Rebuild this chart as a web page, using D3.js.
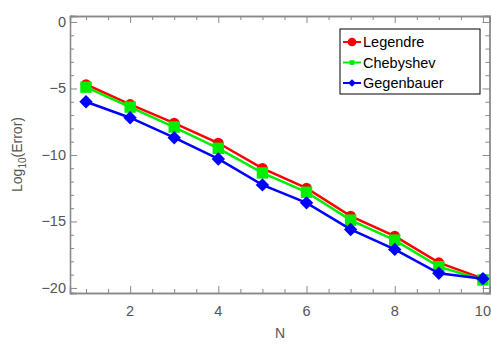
<!DOCTYPE html>
<meta charset="utf-8">
<title>Error vs N</title>
<style>
body { margin: 0; background: #fff; }
text { font-family: "Liberation Sans", Arial, sans-serif; }
</style>
<body>
<div id="chart"></div>
<script src="https://cdn.jsdelivr.net/npm/d3@7"></script>
<script>
  var nValues = [1, 2, 3, 4, 5, 6, 7, 8, 9, 10];
  var legendre   = [-4.7, -6.2, -7.6, -9.1, -11.0, -12.5, -14.6, -16.1, -18.1, -19.3];
  var chebyshev  = [-4.9, -6.4, -7.9, -9.5, -11.35, -12.8, -14.9, -16.4, -18.4, -19.4];
  var gegenbauer = [-6.0, -7.2, -8.7, -10.3, -12.25, -13.6, -15.6, -17.1, -18.9, -19.3];
  var seriesNames = ["Legendre", "Chebyshev", "Gegenbauer"];
  var xTicks = [2, 4, 6, 8, 10];
  var yTicks = [0, -5, -10, -15, -20];

  var width = 491, height = 346;
  var margin = {top: 16, right: 1, bottom: 53, left: 70};

  var svg = d3.select("#chart").append("svg")
      .attr("width", width)
      .attr("height", height);

  var x = d3.scaleLinear().domain([0.637, 10.16])
      .range([margin.left, width - margin.right]);
  var y = d3.scaleLinear().domain([0.45, -20.38])
      .range([margin.top, height - margin.bottom]);

  var axisColor = "#888";
  var labelColor = "#555";

  // frame with ticks on all four sides (mathematica style)
  function tickAxis(axis, transform) {
    var g = svg.append("g").attr("transform", transform).call(axis);
    g.select(".domain").attr("stroke", axisColor).attr("stroke-width", 1.3);
    g.selectAll(".tick line").attr("stroke", axisColor);
    g.selectAll(".tick text").remove();
    return g;
  }

  var xMinor = d3.range(1, 10.01, 0.5).filter(function(v) { return xTicks.indexOf(v) < 0; });
  var yMinor = d3.range(0, -20.5, -1).filter(function(v) { return yTicks.indexOf(v) < 0; });

  var yb = height - margin.bottom, xl = margin.left, xr = width - margin.right;

  tickAxis(d3.axisTop(x).tickValues(xMinor).tickSize(4).tickFormat(""), "translate(0," + yb + ")");
  tickAxis(d3.axisTop(x).tickValues(xTicks).tickSize(7).tickFormat(""), "translate(0," + yb + ")");
  svg.append("g").selectAll("text").data(xTicks).enter().append("text")
      .attr("x", function(d) { return x(d); })
      .attr("y", yb + 23)
      .attr("text-anchor", "middle")
      .attr("fill", labelColor)
      .style("font-size", "14.5px")
      .text(function(d) { return d; });

  tickAxis(d3.axisBottom(x).tickValues(xMinor).tickSize(4).tickFormat(""), "translate(0," + margin.top + ")");
  tickAxis(d3.axisBottom(x).tickValues(xTicks).tickSize(7).tickFormat(""), "translate(0," + margin.top + ")");

  tickAxis(d3.axisRight(y).tickValues(yMinor).tickSize(4).tickFormat(""), "translate(" + xl + ",0)");
  tickAxis(d3.axisRight(y).tickValues(yTicks).tickSize(7).tickFormat(""), "translate(" + xl + ",0)");
  svg.append("g").selectAll("text").data(yTicks).enter().append("text")
      .attr("x", xl - 4)
      .attr("y", function(d) { return y(d) + 5; })
      .attr("text-anchor", "end")
      .attr("fill", labelColor)
      .style("font-size", "14.5px")
      .text(function(d) { return d === 0 ? "0" : "\u2212" + Math.abs(d); });

  tickAxis(d3.axisLeft(y).tickValues(yMinor).tickSize(4).tickFormat(""), "translate(" + (xr - 0.5) + ",0)");
  tickAxis(d3.axisLeft(y).tickValues(yTicks).tickSize(7).tickFormat(""), "translate(" + (xr - 0.5) + ",0)");

  // axis titles
  svg.append("text")
      .attr("x", 280).attr("y", 338)
      .attr("text-anchor", "middle")
      .attr("fill", labelColor)
      .style("font-size", "14px")
      .text("N");

  var yt = svg.append("text")
      .attr("transform", "translate(22," + ((margin.top + yb) / 2) + ") rotate(-90)")
      .attr("text-anchor", "middle")
      .attr("fill", labelColor)
      .style("font-size", "14px");
  yt.append("tspan").text("Log");
  yt.append("tspan").attr("dy", 4).style("font-size", "10px").text("10");
  yt.append("tspan").attr("dy", -4).text("(Error)");

  var series = [
    {name: seriesNames[0], values: legendre, color: "#ff0000", shape: d3.symbolCircle, size: 90, rot: 0, lsize: 60},
    {name: seriesNames[1], values: chebyshev, color: "#00ee00", shape: d3.symbolSquare, size: 130, rot: 0, lsize: 22},
    {name: seriesNames[2], values: gegenbauer, color: "#0000ff", shape: d3.symbolSquare, size: 90, rot: 45, lsize: 30}
  ];

  var line = d3.line()
      .x(function(d, i) { return x(nValues[i]); })
      .y(function(d) { return y(d); });

  series.forEach(function(s) {
    svg.append("path")
        .datum(s.values)
        .attr("d", line)
        .attr("fill", "none")
        .attr("stroke", s.color)
        .attr("stroke-width", 2.5);
    svg.append("g").selectAll("path")
        .data(s.values).enter().append("path")
        .attr("transform", function(d, i) {
          return "translate(" + x(nValues[i]) + "," + y(d) + ") rotate(" + s.rot + ")";
        })
        .attr("d", d3.symbol().type(s.shape).size(s.size))
        .attr("fill", s.color);
  });

  // legend
  var lg = svg.append("g").attr("transform", "translate(340,29)");
  lg.append("rect")
      .attr("width", 140).attr("height", 65)
      .attr("fill", "#fff")
      .attr("stroke", "#000")
      .attr("stroke-width", 1);
  series.forEach(function(s, i) {
    var cy = 13 + i * 20.5;
    lg.append("line")
        .attr("x1", 3).attr("x2", 21)
        .attr("y1", cy).attr("y2", cy)
        .attr("stroke", s.color).attr("stroke-width", 2);
    lg.append("path")
        .attr("transform", "translate(12," + cy + ") rotate(" + s.rot + ")")
        .attr("d", d3.symbol().type(s.shape).size(s.lsize))
        .attr("fill", s.color);
    lg.append("text")
        .attr("x", 23).attr("y", cy + 5)
        .attr("fill", "#000")
        .style("font-size", "14.5px")
        .text(s.name);
  });
</script>
</body>
</html>
